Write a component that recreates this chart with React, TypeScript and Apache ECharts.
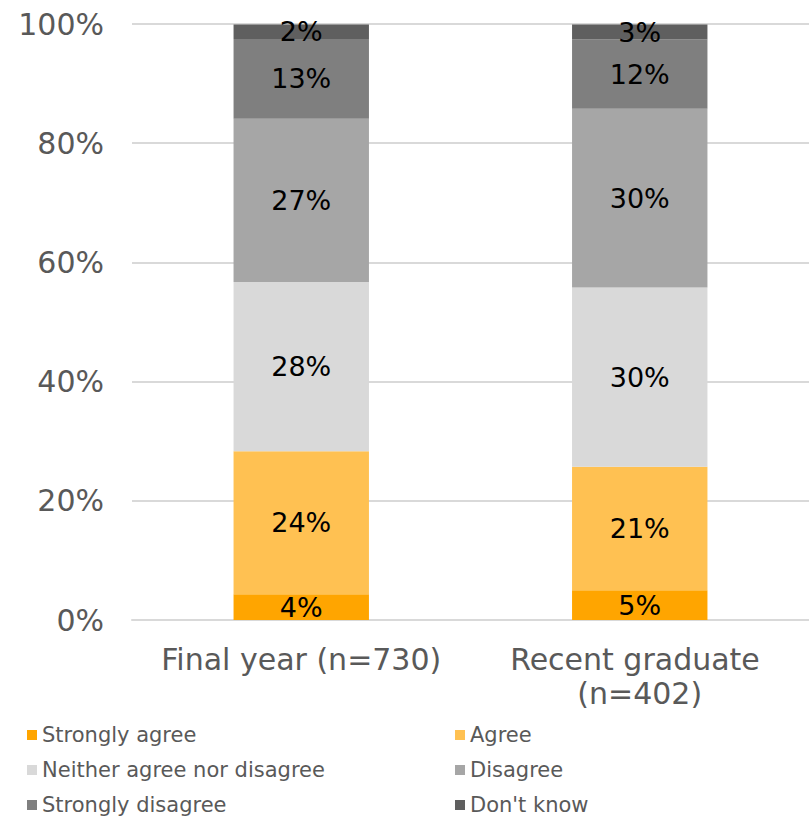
import React, { useEffect, useRef } from "react";
import * as echarts from "echarts";

const categories = ["Final year (n=730)", "Recent graduate (n=402)"];
const seriesNames = [
  "Strongly agree",
  "Agree",
  "Neither agree nor disagree",
  "Disagree",
  "Strongly disagree",
  "Don't know",
];
const stronglyAgree = [4.3, 5.0];
const agree = [24.0, 20.7];
const neither = [28.4, 30.1];
const disagree = [27.4, 30.0];
const stronglyDisagree = [13.4, 11.6];
const dontKnow = [2.4, 2.5];
const yTicks = [0, 20, 40, 60, 80, 100];

const colors = ["#FFA500", "#FFC152", "#D9D9D9", "#A6A6A6", "#7F7F7F", "#5F5F5F"];
const FONT = "DejaVu Sans, Verdana, sans-serif";

export default function App() {
  const ref = useRef<HTMLDivElement>(null);
  useEffect(() => {
    if (!ref.current) return;
    const chart = echarts.init(ref.current, undefined, { renderer: "svg" });
    const values = [stronglyAgree, agree, neither, disagree, stronglyDisagree, dontKnow];
    const legendLefts = [27, 455];
    const legendTops = [724, 759, 794];
    chart.setOption({
      animation: false,
      grid: { left: 132, right: -4, top: 24, bottom: 196, containLabel: false },
      xAxis: {
        type: "category",
        data: categories,
        axisTick: { show: false },
        axisLine: { show: true, lineStyle: { color: "#D9D9D9", width: 2 } },
        axisLabel: {
          color: "#595959",
          fontSize: 30,
          fontFamily: FONT,
          margin: 22,
          width: 330,
          overflow: "break",
          lineHeight: 34,
          interval: 0,
        },
      },
      yAxis: {
        type: "value",
        min: yTicks[0],
        max: yTicks[yTicks.length - 1],
        interval: 20,
        axisLine: { show: false },
        axisTick: { show: false },
        splitLine: { lineStyle: { color: "#D9D9D9", width: 2 } },
        axisLabel: {
          color: "#595959",
          fontSize: 30,
          fontFamily: FONT,
          margin: 28,
          formatter: (v: number) => v + "%",
        },
      },
      legend: seriesNames.map((name, i) => ({
        orient: "horizontal",
        left: legendLefts[i % 2],
        top: legendTops[Math.floor(i / 2)],
        padding: 0,
        itemWidth: 10,
        itemHeight: 10,
        icon: "rect",
        data: [name],
        textStyle: { color: "#595959", fontSize: 21, fontFamily: FONT, lineHeight: 22 },
      })),
      series: seriesNames.map((name, i) => ({
        name,
        type: "bar",
        stack: "total",
        barWidth: "40%",
        data: values[i],
        itemStyle: { color: colors[i] },
        label: {
          show: true,
          position: "inside",
          color: "#000000",
          fontSize: 27,
          fontFamily: FONT,
          formatter: (p: any) => Math.round(p.value) + "%",
        },
      })),
    });
    return () => chart.dispose();
  }, []);
  return <div ref={ref} style={{ width: 809, height: 816, position: "absolute", left: 0, top: 0 }} />;
}
